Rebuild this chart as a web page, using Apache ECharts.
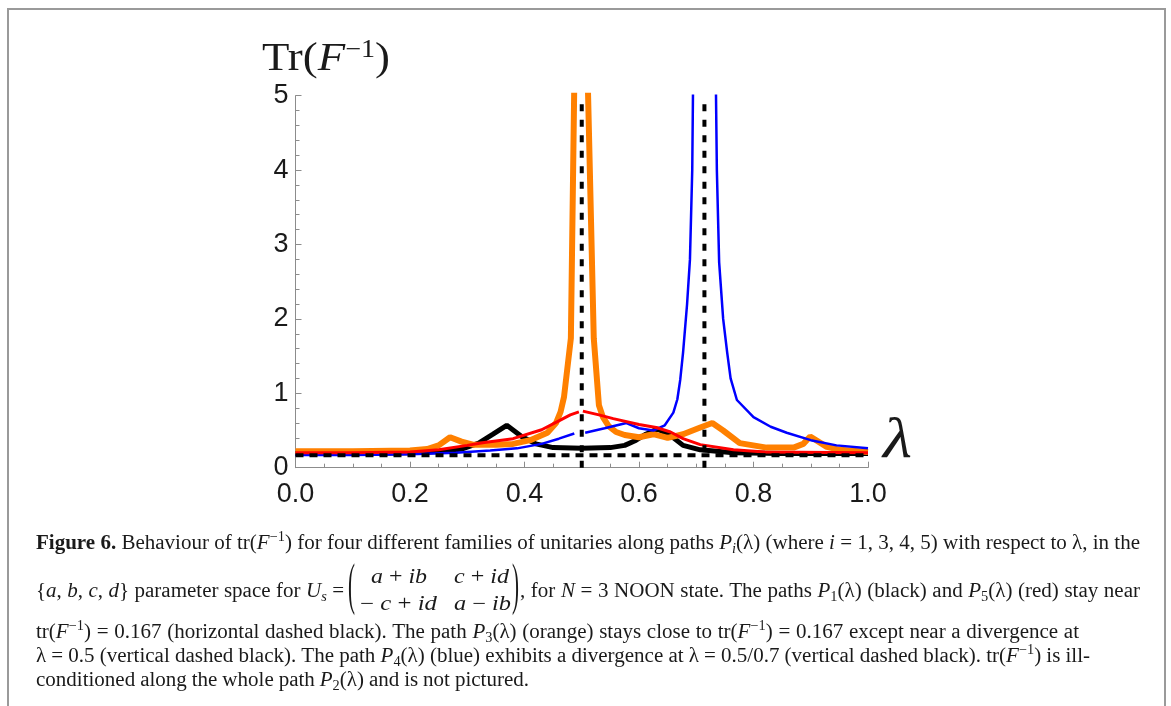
<!DOCTYPE html>
<html><head><meta charset="utf-8">
<script src="https://cdn.jsdelivr.net/npm/echarts@6/dist/echarts.min.js"></script>
<style>
html,body{margin:0;padding:0;background:#fff;}
#chart{position:absolute;left:0;top:0;width:1171px;height:706px;}
.fit{position:absolute;white-space:nowrap;font-family:"Liberation Serif","Times New Roman",serif;color:#1a1a1a;transform-origin:0 0;line-height:1;}
.cap sup{font-size:14px;vertical-align:8px;line-height:0;}
.cap sub{font-size:14px;vertical-align:-4px;line-height:0;}
.ttl sup{font-size:25px;vertical-align:13px;line-height:0;}
#frame{position:absolute;left:7px;top:8px;width:1155px;height:720px;border:2px solid #9a9a9a;border-bottom:none;}
</style></head><body>
<div id="chart"></div>
<div id="frame"></div>
<div class="fit ttl" data-l="262" data-r="390" data-b="70" data-fs="40">Tr(<i>F</i><sup>−1</sup>)</div>
<div class="fit" data-l="883" data-r="912" data-b="458" data-fs="58"><i>λ</i></div>
<div class="fit cap line" id="firstLine" data-l="36" data-r="1140" data-b="549" data-fs="20.5"><b>Figure 6.</b> Behaviour of tr(<i>F</i><sup>−1</sup>) for four different families of unitaries along paths <i>P<sub>i</sub></i>(λ) (where <i>i</i> = 1, 3, 4, 5) with respect to λ, in the</div>
<div class="fit cap line" data-l="36" data-r="344" data-b="597" data-fs="20.5">{<i>a</i>, <i>b</i>, <i>c</i>, <i>d</i>} parameter space for <i>U<sub>s</sub></i> =</div>
<div class="fit cap" data-l="348" data-r="355" data-b="603" data-fs="20.5" data-sy="2.75">(</div>
<div class="fit cap" data-l="371" data-r="427" data-b="583" data-fs="20.5"><i>a</i> + <i>ib</i></div>
<div class="fit cap" data-l="454" data-r="509" data-b="583" data-fs="20.5"><i>c</i> + <i>id</i></div>
<div class="fit cap" data-l="360" data-r="437" data-b="610" data-fs="20.5">− <i>c</i> + <i>id</i></div>
<div class="fit cap" data-l="454" data-r="511" data-b="610" data-fs="20.5"><i>a</i> − <i>ib</i></div>
<div class="fit cap" data-l="512" data-r="519" data-b="603" data-fs="20.5" data-sy="2.75">)</div>
<div class="fit cap line" data-l="520" data-r="1140" data-b="597" data-fs="20.5">, for <i>N</i> = 3 NOON state. The paths <i>P</i><sub>1</sub>(λ) (black) and <i>P</i><sub>5</sub>(λ) (red) stay near</div>
<div class="fit cap line" data-l="36" data-r="1079" data-b="638" data-fs="20.5">tr(<i>F</i><sup>−1</sup>) = 0.167 (horizontal dashed black). The path <i>P</i><sub>3</sub>(λ) (orange) stays close to tr(<i>F</i><sup>−1</sup>) = 0.167 except near a divergence at</div>
<div class="fit cap line" data-l="36" data-r="1090" data-b="662" data-fs="20.5">λ = 0.5 (vertical dashed black). The path <i>P</i><sub>4</sub>(λ) (blue) exhibits a divergence at λ = 0.5/0.7 (vertical dashed black). tr(<i>F</i><sup>−1</sup>) is ill-</div>
<div class="fit cap line" data-l="36" data-r="529" data-b="686" data-fs="20.5">conditioned along the whole path <i>P</i><sub>2</sub>(λ) and is not pictured.</div>
<script>
// ---- data (λ, tr(F^-1)) ----
const p1Black = [[0,0.19],[0.1,0.19],[0.2,0.2],[0.26,0.22],[0.29,0.25],[0.32,0.33],[0.345,0.45],[0.369,0.57],[0.395,0.42],[0.42,0.32],[0.45,0.27],[0.5,0.26],[0.55,0.27],[0.575,0.3],[0.595,0.37],[0.612,0.45],[0.632,0.52],[0.654,0.44],[0.677,0.3],[0.707,0.24],[0.765,0.2],[0.85,0.19],[1,0.19]];
const p3Orange = [[0,0.22],[0.1,0.22],[0.2,0.23],[0.23,0.25],[0.25,0.3],[0.27,0.41],[0.29,0.35],[0.31,0.31],[0.35,0.31],[0.38,0.32],[0.41,0.37],[0.44,0.47],[0.455,0.6],[0.463,0.75],[0.469,0.95],[0.481,1.74],[0.49,6.9],[0.505,7],[0.521,1.74],[0.53,0.84],[0.537,0.68],[0.547,0.56],[0.56,0.48],[0.575,0.44],[0.6,0.41],[0.625,0.45],[0.65,0.4],[0.677,0.45],[0.707,0.54],[0.728,0.6],[0.747,0.5],[0.776,0.33],[0.823,0.27],[0.87,0.27],[0.887,0.32],[0.899,0.42],[0.928,0.28],[0.951,0.24],[1,0.21]];
const p4Blue = [[0,0.17],[0.1,0.17],[0.2,0.18],[0.28,0.2],[0.34,0.23],[0.387,0.26],[0.43,0.32],[0.46,0.39],[0.487,0.46],[0.495,null],[0.506,0.47],[0.54,0.53],[0.578,0.6],[0.6,0.53],[0.625,0.5],[0.645,0.57],[0.66,0.74],[0.667,0.92],[0.672,1.18],[0.677,1.55],[0.684,2.2],[0.689,2.8],[0.693,4],[0.698,8],[0.73,8],[0.736,4],[0.74,2.76],[0.747,2.0],[0.754,1.55],[0.76,1.2],[0.771,0.91],[0.8,0.68],[0.83,0.55],[0.858,0.47],[0.9,0.37],[0.945,0.3],[1,0.26]];
const p5Red = [[0,0.2],[0.1,0.2],[0.2,0.21],[0.25,0.24],[0.3,0.3],[0.33,0.34],[0.38,0.39],[0.43,0.51],[0.46,0.63],[0.48,0.71],[0.495,0.75],[0.499,null],[0.502,0.76],[0.53,0.71],[0.555,0.66],[0.6,0.58],[0.63,0.54],[0.655,0.48],[0.677,0.39],[0.707,0.31],[0.765,0.24],[0.82,0.21],[1,0.2]];
const hRefValue = 0.167;
const vRefValues = [0.5, 0.5/0.7];
const xRange = [0, 1];
const yRange = [0, 5];

function toData(arr){ return arr.map(p => [p[0], p[1] === null ? '-' : p[1]]); }

const chart = echarts.init(document.getElementById('chart'), null, {renderer:'canvas'});
const axisGray = '#8c8c8c';
const dashSeries = [];
dashSeries.push({type:'line', data:[[xRange[0],hRefValue],[xRange[1],hRefValue]], showSymbol:false, silent:true, z:10,
  lineStyle:{color:'#000', width:4, type:[8,6]}});
vRefValues.forEach(v => dashSeries.push({type:'line', data:[[v,yRange[0]],[v,yRange[1]]], showSymbol:false, silent:true, z:10,
  lineStyle:{color:'#000', width:4, type:[7,8.5]}}));

chart.setOption({
  animation:false,
  backgroundColor:'#fff',
  grid:{left:295.5, right:303, top:95.7, bottom:238.3, containLabel:false},
  xAxis:{type:'value', min:xRange[0], max:xRange[1], interval:0.2,
    axisLine:{lineStyle:{color:axisGray, width:1}},
    axisTick:{inside:true, length:6, lineStyle:{color:axisGray}},
    minorTick:{show:true, splitNumber:4, length:4, lineStyle:{color:axisGray}},
    splitLine:{show:false},
    axisLabel:{formatter:v => v.toFixed(1), fontSize:27, fontFamily:'Liberation Sans, Arial, sans-serif', color:'#1a1a1a', margin:13}},
  yAxis:{type:'value', min:yRange[0], max:yRange[1], interval:1,
    axisLine:{show:true, lineStyle:{color:axisGray, width:1}},
    axisTick:{show:true, inside:true, length:6, lineStyle:{color:axisGray}},
    minorTick:{show:true, splitNumber:5, length:4, lineStyle:{color:axisGray}},
    splitLine:{show:false},
    axisLabel:{formatter:v => String(v), fontSize:27, fontFamily:'Liberation Sans, Arial, sans-serif', color:'#1a1a1a', margin:7}},
  series:[
    {type:'line', data:toData(p1Black), showSymbol:false, clip:true, z:2, lineStyle:{color:'#000', width:5}},
    {type:'line', data:toData(p3Orange), showSymbol:false, clip:true, z:3, lineStyle:{color:'#FF8000', width:6}},
    {type:'line', data:toData(p4Blue), showSymbol:false, clip:true, z:4, lineStyle:{color:'#0000FF', width:2.5}},
    {type:'line', data:toData(p5Red), showSymbol:false, clip:true, z:5, lineStyle:{color:'#FF0000', width:3}}
  ].concat(dashSeries)
});

// place overlay texts
const all = Array.from(document.querySelectorAll('.fit'));
all.forEach(el => { el.style.fontSize = el.dataset.fs + 'px'; el.style.left = el.dataset.l + 'px'; });
const first = document.getElementById('firstLine');
const condense = (+first.dataset.r - +first.dataset.l) / first.getBoundingClientRect().width;
all.forEach(el => {
  const fs = +el.dataset.fs, l = +el.dataset.l, r = +el.dataset.r, b = +el.dataset.b;
  const sy = el.dataset.sy ? +el.dataset.sy : 1;
  const w = el.getBoundingClientRect().width;
  let sx;
  if (el.classList.contains('line')) {
    sx = condense;
    const desired = (r - l) / condense;
    const n = (el.textContent.match(/ /g) || []).length;
    if (n > 0) el.style.wordSpacing = ((desired - w) / n) + 'px';
  } else {
    sx = (r - l) / w;
  }
  const baseOff = 0.8375 * fs;
  el.style.top = (b - baseOff) + 'px';
  el.style.transformOrigin = '0 ' + baseOff + 'px';
  el.style.transform = 'scale(' + sx + ',' + sy + ')';
});
</script>
</body></html>
